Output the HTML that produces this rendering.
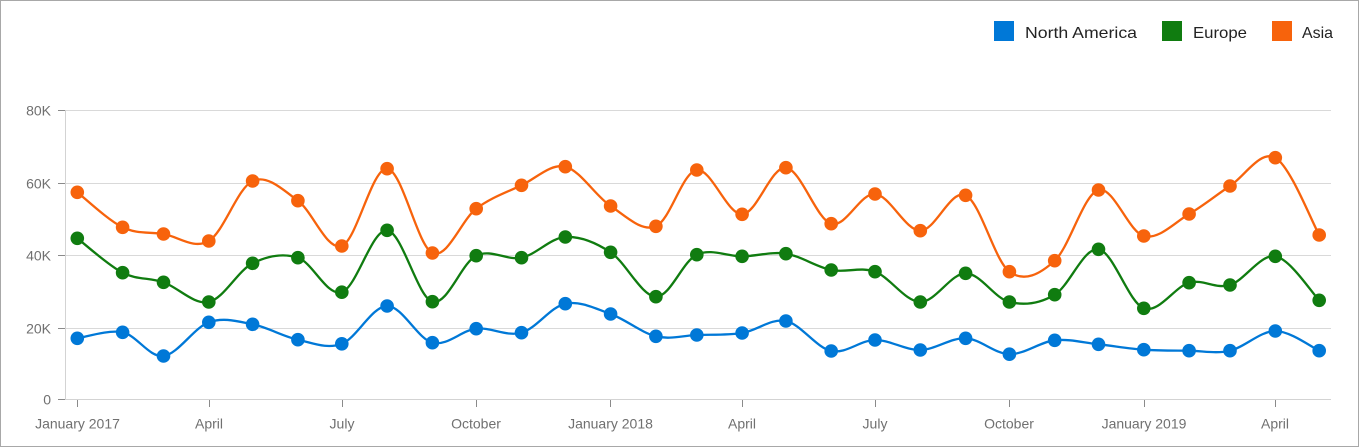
<!DOCTYPE html>
<html><head><meta charset="utf-8"><style>
html,body{margin:0;padding:0;background:#fff;}
body{width:1359px;height:447px;overflow:hidden;}
svg{display:block;font-family:"Liberation Sans",Arial,sans-serif;}
</style></head><body>
<svg id="c" width="1359" height="447" viewBox="0 0 1359 447" xmlns="http://www.w3.org/2000/svg">
<rect x="0.5" y="0.5" width="1358" height="446" fill="#fff" stroke="#a8a8a8" stroke-width="1"/>
<!-- gridlines -->
<g stroke="#d9d9d9" stroke-width="1">
<line x1="65" y1="110.5" x2="1331" y2="110.5"/>
<line x1="65" y1="183.5" x2="1331" y2="183.5"/>
<line x1="65" y1="255.5" x2="1331" y2="255.5"/>
<line x1="65" y1="328.5" x2="1331" y2="328.5"/>
</g>
<line x1="65.5" y1="110" x2="65.5" y2="400" stroke="#d3d3d3" stroke-width="1"/>
<line x1="65" y1="399.5" x2="1331" y2="399.5" stroke="#d3d3d3" stroke-width="1"/>
<!-- y ticks -->
<g stroke="#8a8a8a" stroke-width="1">
<line x1="58" y1="110.5" x2="65" y2="110.5"/>
<line x1="58" y1="183.5" x2="65" y2="183.5"/>
<line x1="58" y1="255.5" x2="65" y2="255.5"/>
<line x1="58" y1="328.5" x2="65" y2="328.5"/>
<line x1="58" y1="399.5" x2="65" y2="399.5"/>
</g>
<!-- x ticks -->
<g stroke="#8a8a8a" stroke-width="1">
<line x1="77.5" y1="400" x2="77.5" y2="407"/>
<line x1="209.5" y1="400" x2="209.5" y2="407"/>
<line x1="342.5" y1="400" x2="342.5" y2="407"/>
<line x1="476.5" y1="400" x2="476.5" y2="407"/>
<line x1="610.5" y1="400" x2="610.5" y2="407"/>
<line x1="742.5" y1="400" x2="742.5" y2="407"/>
<line x1="875.5" y1="400" x2="875.5" y2="407"/>
<line x1="1009.5" y1="400" x2="1009.5" y2="407"/>
<line x1="1144.5" y1="400" x2="1144.5" y2="407"/>
<line x1="1275.5" y1="400" x2="1275.5" y2="407"/>
</g>
<!-- y labels -->
<g fill="#707070" font-size="14" text-anchor="end">
<text x="51" y="115.5">80K</text>
<text x="51" y="188.5">60K</text>
<text x="51" y="260.5">40K</text>
<text x="51" y="333.5">20K</text>
<text x="51" y="404.5">0</text>
</g>
<!-- x labels -->
<g fill="#707070" font-size="14" text-anchor="middle">
<text x="77.5" y="428.5">January 2017</text>
<text x="209" y="428.5">April</text>
<text x="342" y="428.5">July</text>
<text x="476" y="428.5">October</text>
<text x="610.5" y="428.5">January 2018</text>
<text x="742" y="428.5">April</text>
<text x="875" y="428.5">July</text>
<text x="1009" y="428.5">October</text>
<text x="1144" y="428.5">January 2019</text>
<text x="1275" y="428.5">April</text>
</g>
<!-- legend -->
<rect x="994" y="21" width="20" height="20" fill="#0078d7"/>
<text x="1025" y="38" font-size="16" fill="#232323" textLength="112" lengthAdjust="spacingAndGlyphs">North America</text>
<rect x="1162" y="21" width="20" height="20" fill="#107c10"/>
<text x="1193" y="38" font-size="16" fill="#232323" textLength="54" lengthAdjust="spacingAndGlyphs">Europe</text>
<rect x="1272" y="21" width="20" height="20" fill="#f7630c"/>
<text x="1302" y="38" font-size="16" fill="#232323" textLength="31" lengthAdjust="spacingAndGlyphs">Asia</text>
<g id="series"></g>
</svg>
<script>
(function(){
var xs=[77.3,122.6,163.5,208.8,252.6,297.9,341.8,387.1,432.4,476.2,521.5,565.3,610.6,655.9,696.8,742.1,785.9,831.2,875.0,920.3,965.6,1009.4,1054.7,1098.5,1143.8,1189.1,1230.0,1275.3,1319.2];
var S=[
{c:"#0078d7",y:[338.3,332.3,356,322.3,324.3,339.7,343.8,306,342.7,328.7,332.7,303.7,314,336.3,335,333,321,351,340,350,338.3,354.2,340.3,344.3,349.7,350.7,350.7,331,350.7]},
{c:"#107c10",y:[238.3,272.7,282.3,302,263.3,257.7,292.2,230.3,301.7,255.7,257.7,237,252.3,296.7,254.7,256.3,253.7,270,271.7,302,273.3,302,294.7,249.3,308.3,282.7,285,256.3,300.3]},
{c:"#f7630c",y:[192.3,227.3,234,241,181,200.7,246,168.7,253,208.7,185.3,166.7,206,226.3,170,214.3,167.7,223.7,194,230.7,195.3,271.7,260.7,190,236,214,186,157.7,235]}
];
var NS="http://www.w3.org/2000/svg";
var g=document.getElementById("series");
S.forEach(function(s){
  var n=xs.length,p=[];
  for(var i=0;i<n;i++)p.push([xs[i],s.y[i]]);
  var d="M"+p[0][0]+","+p[0][1];
  for(var i=0;i<n-1;i++){
    var p0=p[i>0?i-1:0],p1=p[i],p2=p[i+1],p3=p[i+2<n?i+2:n-1];
    var c1x=p1[0]+(p2[0]-p0[0])/6,c1y=p1[1]+(p2[1]-p0[1])/6;
    var c2x=p2[0]-(p3[0]-p1[0])/6,c2y=p2[1]-(p3[1]-p1[1])/6;
    d+=" C"+c1x.toFixed(2)+","+c1y.toFixed(2)+" "+c2x.toFixed(2)+","+c2y.toFixed(2)+" "+p2[0]+","+p2[1];
  }
  var path=document.createElementNS(NS,"path");
  path.setAttribute("d",d);path.setAttribute("fill","none");
  path.setAttribute("stroke",s.c);path.setAttribute("stroke-width","2.3");
  g.appendChild(path);
  for(var i=0;i<n;i++){
    var c=document.createElementNS(NS,"circle");
    c.setAttribute("cx",p[i][0]);c.setAttribute("cy",p[i][1]);c.setAttribute("r","6.8");
    c.setAttribute("fill",s.c);
    g.appendChild(c);
  }
});
})();
</script>
</body></html>
